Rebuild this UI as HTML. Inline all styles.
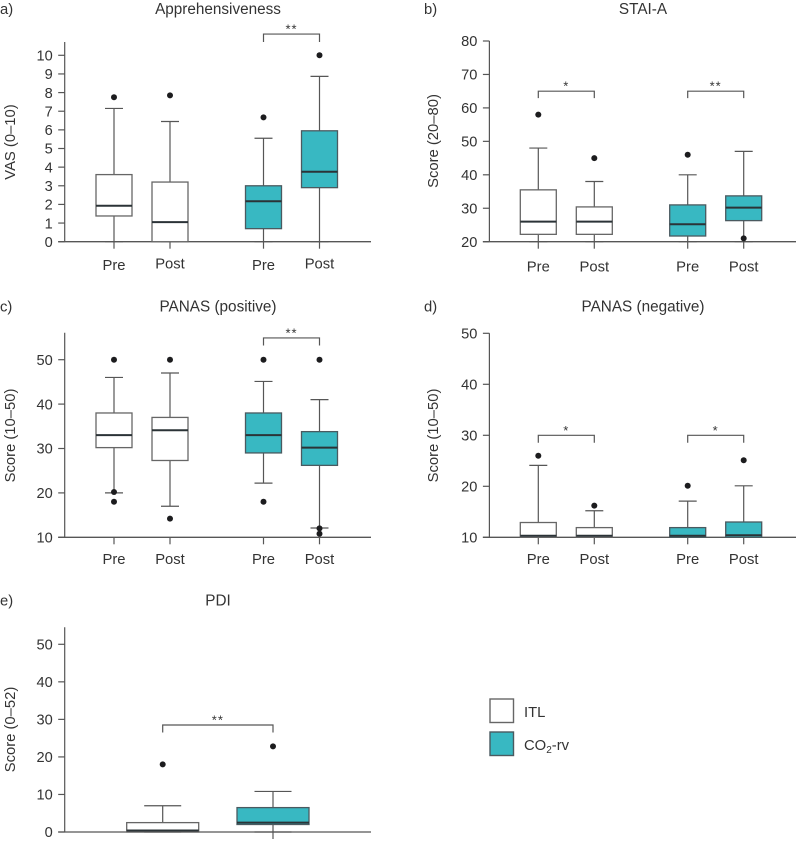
<!DOCTYPE html>
<html lang="en">
<head>
<meta charset="utf-8">
<title>Boxplots of psychological scores</title>
<style>
html,body{margin:0;padding:0;background:#fff;width:796px;height:843px;overflow:hidden}
svg{display:block}
text{font-family:"Liberation Sans",sans-serif;fill:#333}
.t{font-size:14.8px}
.title{font-size:15.3px}
.tick{font-size:14.6px}
</style>
</head>
<body>
<svg id="chart" width="796" height="843" viewBox="0 0 796 843" xmlns="http://www.w3.org/2000/svg">
  <text class="t" x="0" y="14">a)</text>
  <text class="t" x="424" y="14">b)</text>
  <text class="t" x="0" y="311.5">c)</text>
  <text class="t" x="424" y="311.5">d)</text>
  <text class="t" x="0" y="605.5">e)</text>
  <g>
    <rect x="490" y="699" width="23.5" height="23.5" fill="#fff" stroke="#666" stroke-width="1.4"/>
    <text class="t" x="524" y="717">ITL</text>
    <rect x="490" y="732" width="23.5" height="23.5" fill="#38b8c2" stroke="#4a5a60" stroke-width="1.4"/>
    <text class="t" x="524" y="750">CO<tspan dy="3" font-size="10">2</tspan><tspan dy="-3">-rv</tspan></text>
  </g>
</svg>
<script>
// Panel a: Apprehensiveness
const aCategories = ['Pre', 'Post', 'Pre', 'Post'];
const aSeries = ['ITL', 'ITL', 'CO2-rv', 'CO2-rv'];
const aWhiskerLow = [0, 0, 0, 0];
const aQ1 = [1.38, 0, 0.7, 2.9];
const aMedian = [1.93, 1.05, 2.17, 3.75];
const aQ3 = [3.6, 3.2, 3.0, 5.95];
const aWhiskerHigh = [7.15, 6.45, 5.55, 8.87];
const aOutliers = [[7.75], [7.85], [6.67], [10]];
const aTicks = [0, 1, 2, 3, 4, 5, 6, 7, 8, 9, 10];
const aBrackets = [{ from: 2, to: 3, value: 11.14, label: '**' }];

// Panel b: STAI-A
const bCategories = ['Pre', 'Post', 'Pre', 'Post'];
const bSeries = ['ITL', 'ITL', 'CO2-rv', 'CO2-rv'];
const bWhiskerLow = [20, 20, 20, 20];
const bQ1 = [22.2, 22.2, 21.7, 26.3];
const bMedian = [26, 26, 25.2, 30.2];
const bQ3 = [35.5, 30.4, 31, 33.7];
const bWhiskerHigh = [48, 38, 40, 47];
const bOutliers = [[58], [45], [46], [21]];
const bTicks = [20, 30, 40, 50, 60, 70, 80];
const bBrackets = [{ from: 0, to: 1, value: 65, label: '*' }, { from: 2, to: 3, value: 65, label: '**' }];

// Panel c: PANAS (positive)
const cCategories = ['Pre', 'Post', 'Pre', 'Post'];
const cSeries = ['ITL', 'ITL', 'CO2-rv', 'CO2-rv'];
const cWhiskerLow = [20, 17, 22.2, 12.1];
const cQ1 = [30.2, 27.3, 29, 26.2];
const cMedian = [33, 34.1, 33, 30.2];
const cQ3 = [38, 37, 38, 33.8];
const cWhiskerHigh = [46, 47, 45.1, 41];
const cOutliers = [[50, 20.2, 18], [50, 14.2], [50, 18], [50, 12, 10.8]];
const cTicks = [10, 20, 30, 40, 50];
const cBrackets = [{ from: 2, to: 3, value: 54.9, label: '**' }];

// Panel d: PANAS (negative)
const dCategories = ['Pre', 'Post', 'Pre', 'Post'];
const dSeries = ['ITL', 'ITL', 'CO2-rv', 'CO2-rv'];
const dWhiskerLow = [10, 10, 10, 10];
const dQ1 = [10, 10, 10, 10];
const dMedian = [10.3, 10.3, 10.3, 10.4];
const dQ3 = [12.9, 11.9, 11.9, 13];
const dWhiskerHigh = [24.1, 15.2, 17.1, 20.1];
const dOutliers = [[26], [16.2], [20.1], [25.1]];
const dTicks = [10, 20, 30, 40, 50];
const dBrackets = [{ from: 0, to: 1, value: 30, label: '*' }, { from: 2, to: 3, value: 30, label: '*' }];

// Panel e: PDI
const eCategories = ['', ''];
const eSeries = ['ITL', 'CO2-rv'];
const eWhiskerLow = [0, 0];
const eQ1 = [0, 2];
const eMedian = [0.4, 2.5];
const eQ3 = [2.5, 6.5];
const eWhiskerHigh = [7, 10.8];
const eOutliers = [[18], [22.8]];
const eTicks = [0, 10, 20, 30, 40, 50];
const eBrackets = [{ from: 0, to: 1, value: 28.5, label: '**' }];

const NS = 'http://www.w3.org/2000/svg';
const root = document.getElementById('chart');
const LINE = '#565656';
const FILLS = { 'ITL': '#ffffff', 'CO2-rv': '#38b8c2' };

function make(tag, attrs, parent, txt) {
  const n = document.createElementNS(NS, tag);
  for (const k in attrs) n.setAttribute(k, attrs[k]);
  if (txt !== undefined) n.textContent = txt;
  parent.appendChild(n);
  return n;
}

function line(parent, x1, y1, x2, y2, w, color, name) {
  const el = make('line', { x1: x1, y1: y1, x2: x2, y2: y2, stroke: color || LINE, 'stroke-width': w || 1.2 }, parent);
  
  
  return el;
}

function drawPanel(p, d) {
  const g = make('g', {}, root);
  
  

  const yScale = v => p.pxLow + (v - p.vLow) * (p.pxHigh - p.pxLow) / (p.vHigh - p.vLow);
  const xScale = k => p.xStart + k * p.pairStep + (k >= 2 ? p.groupGap : 0);
  const baseY = yScale(p.vLow);

  const title = make('text', { class: 'title', x: p.titleX, y: p.titleY, 'text-anchor': 'middle' }, g, p.title);
  
  

  const yTitle = make('text', { class: 't', x: 0, y: 0, 'text-anchor': 'middle', transform: 'translate(' + p.yTitleX + ' ' + p.yTitleY + ') rotate(-90)' }, g, p.yTitle);
  
  

  line(g, p.axisX, p.axisTop, p.axisX, baseY, 1.2, LINE, 'y-axis-line');
  line(g, p.axisX - 6.5, baseY, p.axisRight, baseY, 1.3, LINE, 'x-axis-line');

  d.ticks.forEach(t => {
    const y = yScale(t);
    line(g, p.axisX - 6.5, y, p.axisX, y, 1.2, LINE, 'y-tick');
    const lab = make('text', { class: 'tick', x: p.axisX - 12, y: y + 5.2, 'text-anchor': 'end' }, g, t);
    
    
  });

  d.categories.forEach((c, k) => {
    const x = xScale(k);
    const yQ1 = yScale(d.q1[k]);
    const yQ3 = yScale(d.q3[k]);
    const yMed = yScale(d.median[k]);
    const yLow = yScale(d.whiskerLow[k]);
    const yHigh = yScale(d.whiskerHigh[k]);
    const series = d.series[k];

    if (p.xTickFrom <= k) line(g, x, baseY, x, baseY + 7, 1.2, LINE, 'x-tick');

    line(g, x, yHigh, x, yQ3, 1.2, LINE, 'whisker-high');
    line(g, x - p.capW / 2, yHigh, x + p.capW / 2, yHigh, 1.2, LINE, 'whisker-cap-high');
    line(g, x, yQ1, x, yLow, 1.2, LINE, 'whisker-low');
    line(g, x - p.capW / 2, yLow, x + p.capW / 2, yLow, 1.2, LINE, 'whisker-cap-low');

    const box = make('rect', { x: x - p.boxW / 2, y: yQ3, width: p.boxW, height: Math.max(0, yQ1 - yQ3), fill: FILLS[series], stroke: series === 'ITL' ? '#666' : '#4a5a60', 'stroke-width': 1.3 }, g);
    
    

    line(g, x - p.boxW / 2, yMed, x + p.boxW / 2, yMed, 2, '#2b3337', 'median-line');

    d.outliers[k].forEach(v => {
      const dot = make('circle', { cx: x, cy: yScale(v), r: 3, fill: '#1c1c1e' }, g);
      
      
    });

    if (c) {
      const lab = make('text', { class: 't', x: x, y: p.labelY + (c === 'Post' ? p.postDy : 0), 'text-anchor': 'middle' }, g, c);
      
      
    }
  });

  d.brackets.forEach(b => {
    const x1 = xScale(b.from);
    const x2 = xScale(b.to);
    const y = yScale(b.value);
    const path = make('path', { d: 'M' + x1 + ' ' + (y + p.drop) + 'V' + y + 'H' + x2 + 'V' + (y + p.drop), fill: 'none', stroke: LINE, 'stroke-width': 1.2 }, g);
    
    
    const star = make('text', { x: (x1 + x2) / 2, y: y - 0.5, 'text-anchor': 'middle', 'font-size': 13, 'letter-spacing': 1 }, g, b.label);
    
    
  });
}

const leftCol = { axisX: 64.7, axisRight: 371, xStart: 114, pairStep: 56, groupGap: 37.5, boxW: 36, capW: 18, xTickFrom: 0, postDy: 0, yTitleX: 15, titleX: 218 };
const rightCol = { axisX: 489.4, axisRight: 796, xStart: 538.3, pairStep: 56, groupGap: 37.4, boxW: 36, capW: 18, xTickFrom: 0, postDy: 0, yTitleX: 438 };

drawPanel(Object.assign({}, leftCol, { id: 'a', title: 'Apprehensiveness', titleY: 14, yTitle: 'VAS (0\u201310)', yTitleY: 142, vLow: 0, vHigh: 10, pxLow: 241.7, pxHigh: 55.3, axisTop: 42, labelY: 270, postDy: -1.3, drop: 8 }),
  { categories: aCategories, series: aSeries, whiskerLow: aWhiskerLow, q1: aQ1, median: aMedian, q3: aQ3, whiskerHigh: aWhiskerHigh, outliers: aOutliers, ticks: aTicks, brackets: aBrackets });

drawPanel(Object.assign({}, rightCol, { id: 'b', title: 'STAI-A', titleX: 643, titleY: 14, yTitle: 'Score (20\u201380)', yTitleY: 141, vLow: 20, vHigh: 80, pxLow: 241.7, pxHigh: 41, axisTop: 41, labelY: 271.5, drop: 7 }),
  { categories: bCategories, series: bSeries, whiskerLow: bWhiskerLow, q1: bQ1, median: bMedian, q3: bQ3, whiskerHigh: bWhiskerHigh, outliers: bOutliers, ticks: bTicks, brackets: bBrackets });

drawPanel(Object.assign({}, leftCol, { id: 'c', title: 'PANAS (positive)', titleY: 311.5, yTitle: 'Score (10\u201350)', yTitleY: 435.5, vLow: 10, vHigh: 50, pxLow: 537.3, pxHigh: 359.7, axisTop: 332.7, labelY: 564, drop: 7.5 }),
  { categories: cCategories, series: cSeries, whiskerLow: cWhiskerLow, q1: cQ1, median: cMedian, q3: cQ3, whiskerHigh: cWhiskerHigh, outliers: cOutliers, ticks: cTicks, brackets: cBrackets });

drawPanel(Object.assign({}, rightCol, { id: 'd', title: 'PANAS (negative)', titleX: 643, titleY: 311.5, yTitle: 'Score (10\u201350)', yTitleY: 435.5, vLow: 10, vHigh: 50, pxLow: 537.3, pxHigh: 333.3, axisTop: 333.3, labelY: 564, drop: 7.5 }),
  { categories: dCategories, series: dSeries, whiskerLow: dWhiskerLow, q1: dQ1, median: dMedian, q3: dQ3, whiskerHigh: dWhiskerHigh, outliers: dOutliers, ticks: dTicks, brackets: dBrackets });

drawPanel(Object.assign({}, leftCol, { id: 'e', title: 'PDI', titleY: 605.5, yTitle: 'Score (0\u201352)', yTitleY: 729.5, vLow: 0, vHigh: 50, pxLow: 832, pxHigh: 644.3, axisTop: 627.3, labelY: 860, xStart: 162.7, pairStep: 110.3, groupGap: 0, boxW: 72, capW: 37, xTickFrom: 1, drop: 7.5 }),
  { categories: eCategories, series: eSeries, whiskerLow: eWhiskerLow, q1: eQ1, median: eMedian, q3: eQ3, whiskerHigh: eWhiskerHigh, outliers: eOutliers, ticks: eTicks, brackets: eBrackets });
</script>
</body>
</html>
